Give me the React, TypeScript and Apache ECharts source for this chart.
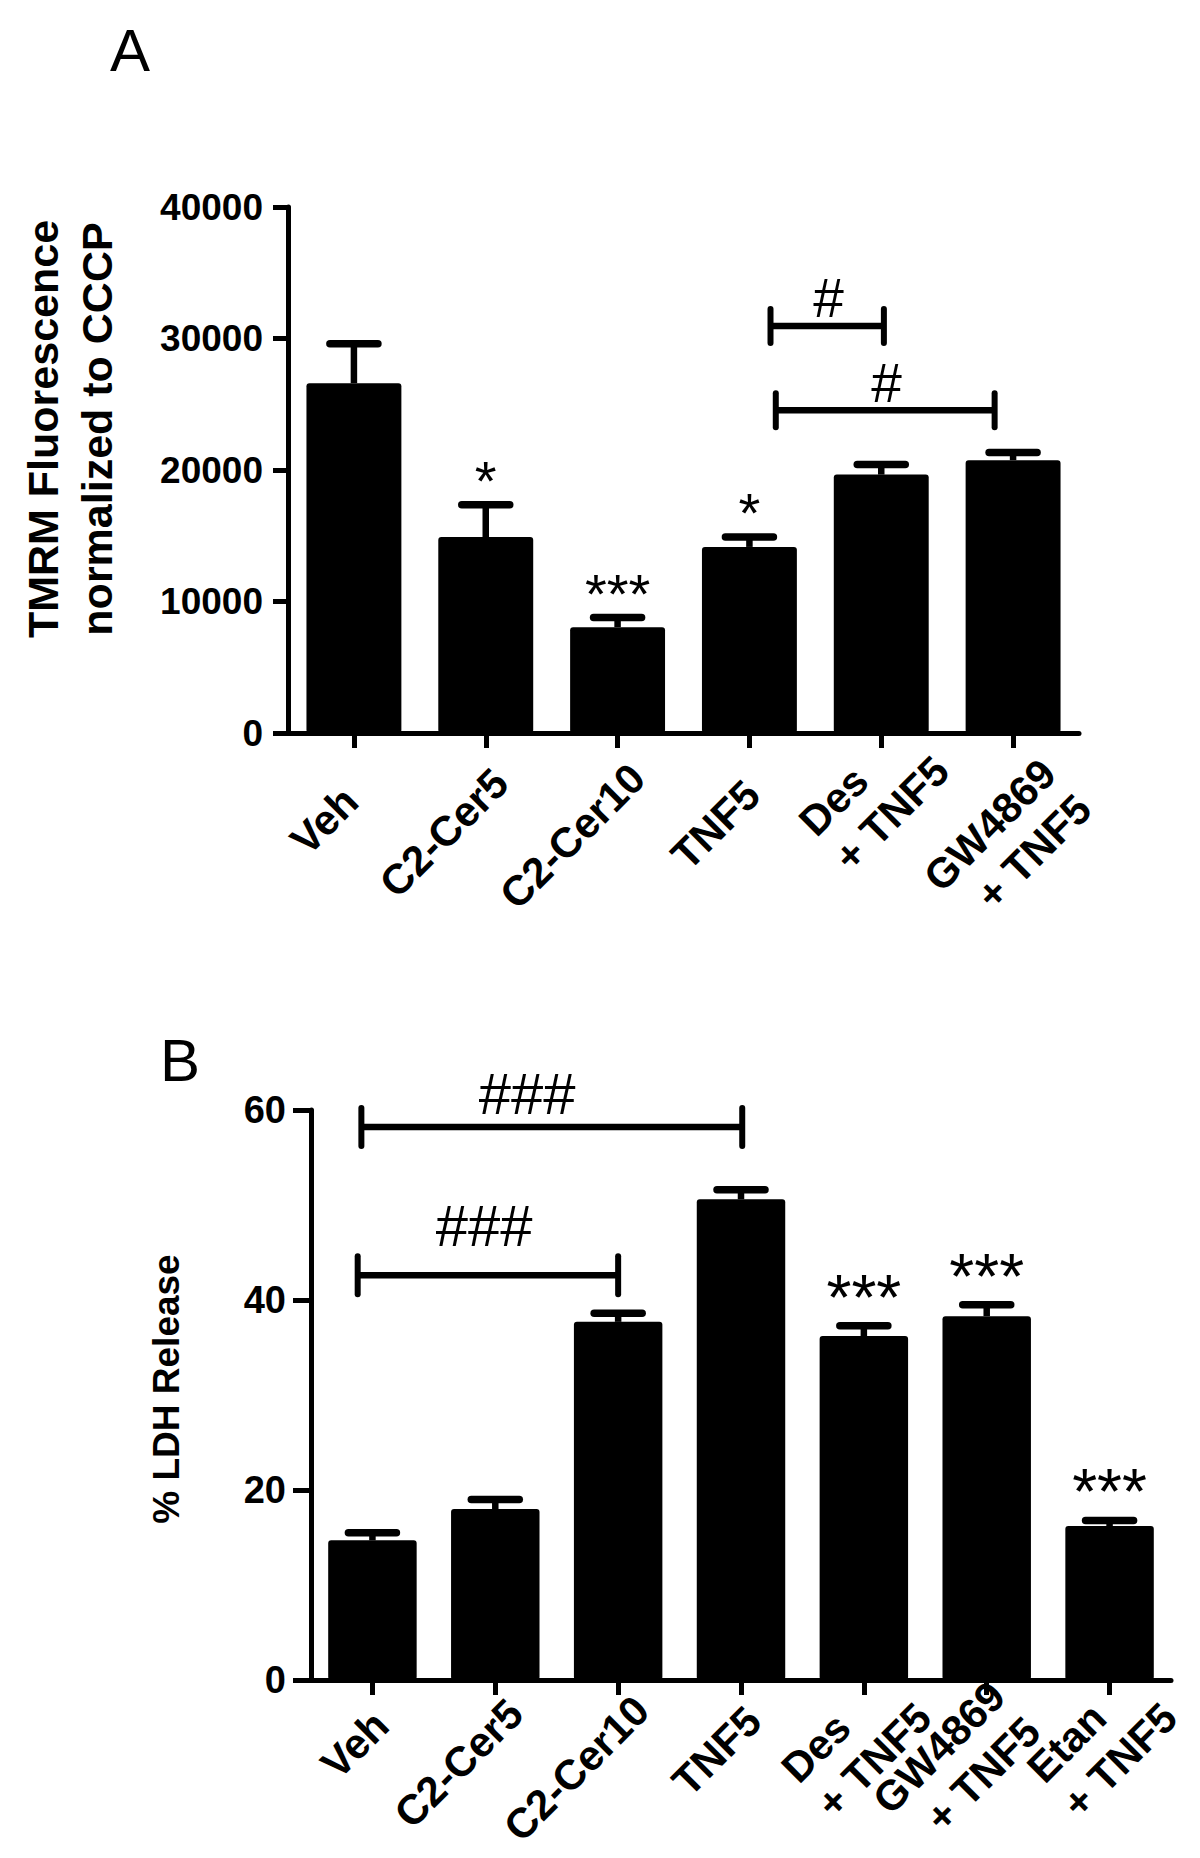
import React, { useEffect, useRef } from 'react';
import * as echarts from 'echarts';

const FONT = '"Liberation Sans", Arial, Helvetica, sans-serif';

// ---- Panel A data ----
const categoriesA = ['Veh', 'C2-Cer5', 'C2-Cer10', 'TNF5', 'Des\n+ TNF5', 'GW4869\n+ TNF5'];
const meansA = [26600, 14900, 8050, 14150, 19650, 20750];
const errA = [3000, 2450, 740, 760, 760, 580];
const yMinA = 0;
const yMaxA = 40000;
const yStepA = 10000;
const starsA = [
  { cat: 1, text: '*' },
  { cat: 2, text: '***' },
  { cat: 3, text: '*' },
];
const bracketsA = [
  { from: 3.16, to: 4.02, y: 30950, text: '#', textX: 3.6, textY: 33100 },
  { from: 3.2, to: 4.86, y: 24550, text: '#', textX: 4.04, textY: 26600 },
];
const yTitleA = 'TMRM Fluorescence\nnormalized to CCCP';

// ---- Panel B data ----
const categoriesB = ['Veh', 'C2-Cer5', 'C2-Cer10', 'TNF5', 'Des\n+ TNF5', 'GW4869\n+ TNF5', 'Etan\n+ TNF5'];
const meansB = [14.7, 18.0, 37.7, 50.6, 36.2, 38.3, 16.2];
const errB = [0.8, 1.0, 0.9, 1.0, 1.1, 1.2, 0.6];
const yMinB = 0;
const yMaxB = 60;
const yStepB = 20;
const starsB = [
  { cat: 4, text: '***' },
  { cat: 5, text: '***' },
  { cat: 6, text: '***' },
];
const bracketsB = [
  { from: -0.09, to: 3.01, y: 58.2, text: '###', textX: 1.26, textY: 61.7 },
  { from: -0.12, to: 2.0, y: 42.6, text: '###', textX: 0.91, textY: 47.8 },
];
const yTitleB = '% LDH Release';

// ---- label layout (style, not data) ----
const XLABEL_SIZE = 42;
const XLABEL_LINE = 50;
const XLABEL_MARGIN = 40;
type LabelLayout = { sSlope: number; sConst: number; sV: number; mvSlope: number };
const LABEL_LAYOUT_A: LabelLayout = { sSlope: 0.3, sConst: -68, sV: 41, mvSlope: 1.4 };
const LABEL_LAYOUT_B: LabelLayout = { sSlope: 0.19, sConst: -35, sV: 33, mvSlope: 0 };
const MULTI_LAYOUT = { refEnd: 21, refW: 141, slope: -0.8, v: 39 };

let measureCtx: CanvasRenderingContext2D | null = null;
function textWidth(s: string) {
  if (!measureCtx) measureCtx = document.createElement('canvas').getContext('2d');
  if (!measureCtx) return s.length * XLABEL_SIZE * 0.6;
  measureCtx.font = `bold ${XLABEL_SIZE}px ${FONT}`;
  return measureCtx.measureText(s).width;
}

function catData(cats: string[], layout: LabelLayout) {
  const k = Math.SQRT1_2 * XLABEL_MARGIN;
  return cats.map((c) => {
    const lines = c.split('\n');
    const ws = lines.map(textWidth);
    const W = Math.max(...ws);
    let uEnd: number;
    let vMid: number;
    if (lines.length === 1) {
      uEnd = layout.sSlope * W + layout.sConst;
      vMid = layout.sV;
    } else {
      uEnd = MULTI_LAYOUT.refEnd + MULTI_LAYOUT.slope * (W - MULTI_LAYOUT.refW);
      vMid = MULTI_LAYOUT.v + layout.mvSlope * Math.max(0, W - MULTI_LAYOUT.refW);
    }
    const uC = uEnd - W / 2;
    const du = uC + k;
    const dv = vMid - k;
    const padding = [dv > 0 ? 2 * dv : 0, du < 0 ? -2 * du : 0, dv < 0 ? -2 * dv : 0, du > 0 ? 2 * du : 0];
    return { value: c, textStyle: { align: 'center', verticalAlign: 'middle', padding } };
  });
}

function labelFormatter(v: string) {
  const lines = v.split('\n');
  if (lines.length === 1) return `{l|${v}}`;
  const ws = lines.map(textWidth);
  return lines.map((s, i) => (i > 0 && ws[0] > ws[i] ? `{r|${s}}` : `{l|${s}}`)).join('\n');
}

function xAxisCfg(gridIndex: number, cats: string[], layout: LabelLayout) {
  const tok = { fontSize: XLABEL_SIZE, fontWeight: 'bold', fontFamily: FONT, color: '#000', lineHeight: XLABEL_LINE };
  return {
    type: 'category',
    gridIndex,
    data: catData(cats, layout),
    boundaryGap: true,
    axisLine: { show: true, lineStyle: { color: '#000', width: 5 } },
    axisTick: { show: true, alignWithLabel: true, length: 15, lineStyle: { color: '#000', width: 5 } },
    splitLine: { show: false },
    axisLabel: {
      interval: 0,
      rotate: 45,
      margin: XLABEL_MARGIN,
      color: '#000',
      fontSize: XLABEL_SIZE,
      fontWeight: 'bold',
      fontFamily: FONT,
      formatter: labelFormatter,
      rich: {
        l: { ...tok, align: 'left' },
        r: { ...tok, align: 'right' },
      },
    },
  };
}

function yAxisCfg(gridIndex: number, min: number, max: number, step: number, fontSize: number, tickLen: number) {
  return {
    type: 'value',
    gridIndex,
    min,
    max,
    interval: step,
    axisLine: { show: true, lineStyle: { color: '#000', width: 5 } },
    axisTick: { show: true, length: tickLen, lineStyle: { color: '#000', width: 5 } },
    splitLine: { show: false },
    axisLabel: {
      color: '#000',
      fontSize,
      fontWeight: 'bold',
      fontFamily: FONT,
      margin: 25,
      formatter: (v: number) => String(v),
    },
  };
}

function barSeries(idx: number, means: number[]) {
  return {
    type: 'bar',
    xAxisIndex: idx,
    yAxisIndex: idx,
    data: means,
    barCategoryGap: '28%',
    itemStyle: { color: '#000', borderRadius: 3 },
    z: 2,
  };
}

function errorSeries(idx: number, means: number[], errs: number[]) {
  return {
    type: 'custom',
    xAxisIndex: idx,
    yAxisIndex: idx,
    z: 3,
    data: means.map((m, i) => [i, m, m + errs[i]]),
    encode: { x: 0, y: [1, 2] },
    renderItem: (params: any, api: any) => {
      const i = api.value(0);
      const base = api.coord([i, api.value(1)]);
      const top = api.coord([i, api.value(2)]);
      const half = 24;
      return {
        type: 'group',
        children: [
          { type: 'line', shape: { x1: top[0], y1: top[1], x2: base[0], y2: base[1] }, style: { stroke: '#000', lineWidth: 6.5 } },
          {
            type: 'line',
            shape: { x1: top[0] - half, y1: top[1], x2: top[0] + half, y2: top[1] },
            style: { stroke: '#000', lineWidth: 7.5, lineCap: 'round' },
          },
        ],
      };
    },
  };
}

function starSeries(idx: number, stars: { cat: number; text: string }[], means: number[], errs: number[], fontSize: number, gap: number) {
  return {
    type: 'custom',
    xAxisIndex: idx,
    yAxisIndex: idx,
    z: 4,
    data: stars.map((s) => [s.cat, means[s.cat] + errs[s.cat]]),
    encode: { x: 0, y: 1 },
    renderItem: (params: any, api: any) => {
      const p = api.coord([api.value(0), api.value(1)]);
      return {
        type: 'text',
        x: p[0],
        y: p[1] - gap,
        style: {
          text: stars[params.dataIndex].text,
          fontSize,
          fontFamily: FONT,
          fontWeight: 'normal',
          fill: '#000',
          align: 'center',
          verticalAlign: 'middle',
        },
      };
    },
  };
}

function bracketSeries(
  idx: number,
  brackets: { from: number; to: number; y: number; text: string; textX: number; textY: number }[],
  fontSize: number,
  endHalf: number
) {
  return {
    type: 'custom',
    xAxisIndex: idx,
    yAxisIndex: idx,
    z: 4,
    data: brackets.map((b) => [0, b.y]),
    encode: { x: 0, y: 1 },
    renderItem: (params: any, api: any) => {
      const b = brackets[params.dataIndex];
      const band = api.size([1, 0])[0];
      const px = (pos: number) => {
        const base = Math.round(pos);
        return api.coord([base, 0])[0] + (pos - base) * band;
      };
      const y = api.coord([0, b.y])[1];
      const ty = api.coord([0, b.textY])[1];
      const x1 = px(b.from);
      const x2 = px(b.to);
      const st = { stroke: '#000', lineWidth: 6, lineCap: 'round' };
      return {
        type: 'group',
        children: [
          { type: 'line', shape: { x1, y1: y, x2, y2: y }, style: { stroke: '#000', lineWidth: 6.5 } },
          { type: 'line', shape: { x1, y1: y - endHalf, x2: x1, y2: y + endHalf }, style: st },
          { type: 'line', shape: { x1: x2, y1: y - endHalf, x2, y2: y + endHalf }, style: st },
          {
            type: 'text',
            x: px(b.textX),
            y: ty,
            style: {
              text: b.text,
              fontSize,
              fontFamily: FONT,
              fontWeight: 'normal',
              fill: '#000',
              align: 'center',
              verticalAlign: 'middle',
            },
          },
        ],
      };
    },
  };
}

function buildOption() {
  return {
    animation: false,
    backgroundColor: '#fff',
    grid: [
      { left: 288, top: 207, width: 791, height: 526, containLabel: false, outerBoundsMode: 'none' },
      { left: 311, top: 1110, width: 860, height: 570, containLabel: false, outerBoundsMode: 'none' },
    ],
    xAxis: [xAxisCfg(0, categoriesA, LABEL_LAYOUT_A), xAxisCfg(1, categoriesB, LABEL_LAYOUT_B)],
    yAxis: [yAxisCfg(0, yMinA, yMaxA, yStepA, 37, 15), yAxisCfg(1, yMinB, yMaxB, yStepB, 38, 18)],
    series: [
      barSeries(0, meansA),
      errorSeries(0, meansA, errA),
      starSeries(0, starsA, meansA, errA, 56, 24),
      bracketSeries(0, bracketsA, 55, 17),
      barSeries(1, meansB),
      errorSeries(1, meansB, errB),
      starSeries(1, starsB, meansB, errB, 64, 28),
      bracketSeries(1, bracketsB, 58, 19),
    ],
    graphic: [
      {
        type: 'text',
        x: 130,
        y: 50,
        style: { text: 'A', fontSize: 60, fontFamily: FONT, fontWeight: 'normal', fill: '#000', align: 'center', verticalAlign: 'middle' },
      },
      {
        type: 'text',
        x: 180,
        y: 1060,
        style: { text: 'B', fontSize: 60, fontFamily: FONT, fontWeight: 'normal', fill: '#000', align: 'center', verticalAlign: 'middle' },
      },
      {
        type: 'text',
        x: 70,
        y: 429,
        rotation: Math.PI / 2,
        style: {
          text: yTitleA,
          fontSize: 43,
          lineHeight: 54,
          fontFamily: FONT,
          fontWeight: 'bold',
          fill: '#000',
          align: 'center',
          verticalAlign: 'middle',
        },
      },
      {
        type: 'text',
        x: 166,
        y: 1389,
        rotation: Math.PI / 2,
        style: {
          text: yTitleB,
          fontSize: 37,
          fontFamily: FONT,
          fontWeight: 'bold',
          fill: '#000',
          align: 'center',
          verticalAlign: 'middle',
        },
      },
    ],
  };
}

export default function App() {
  const ref = useRef<HTMLDivElement>(null);
  useEffect(() => {
    document.body.style.margin = '0';
    const chart = echarts.init(ref.current as HTMLDivElement, undefined, { renderer: 'svg', width: 1200, height: 1858 });
    chart.setOption(buildOption() as any);
    return () => chart.dispose();
  }, []);
  return <div ref={ref} style={{ position: 'absolute', left: 0, top: 0, width: 1200, height: 1858, background: '#fff' }} />;
}
